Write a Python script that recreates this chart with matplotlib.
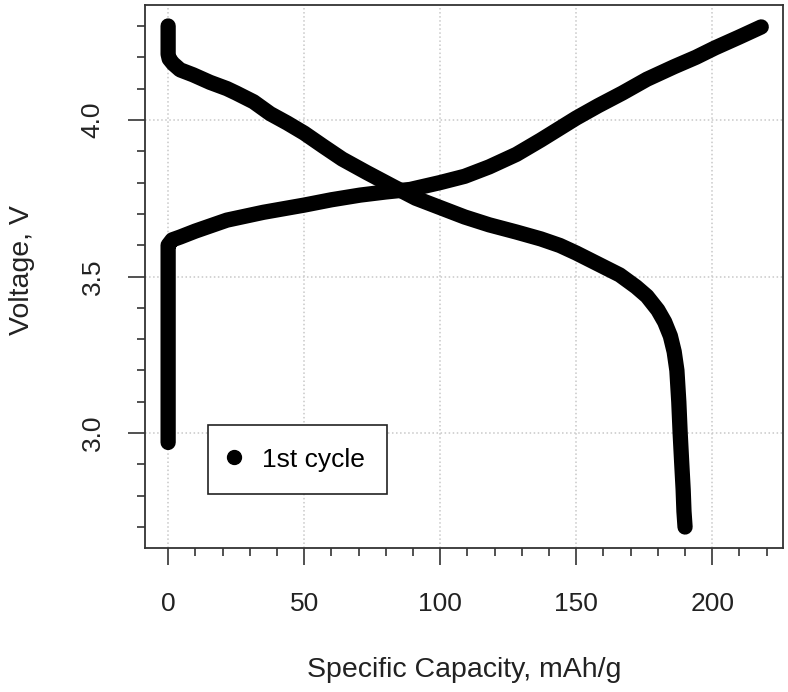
import numpy as np
import matplotlib
matplotlib.use("Agg")
import matplotlib.pyplot as plt
from matplotlib.ticker import MultipleLocator
from matplotlib.lines import Line2D

# charge branch (capacity mAh/g, voltage V)
charge_cap = [0, 0, 0, 0, 1.5, 4.4, 10, 21.6, 35, 50, 60, 70.6, 80, 89,
              100, 109, 118, 128, 137, 150, 158, 167, 176, 186, 194, 201,
              210, 215, 218]
charge_v = [2.97, 3.20, 3.45, 3.60, 3.617, 3.626, 3.645, 3.68, 3.705, 3.728,
            3.745, 3.76, 3.77, 3.778, 3.80, 3.82, 3.85, 3.89, 3.936, 4.006,
            4.045, 4.086, 4.13, 4.17, 4.20, 4.23, 4.265, 4.285, 4.297]

# discharge branch
dis_cap = [0, 0, 0, 0.4, 1.8, 4.4, 9.2, 15.4, 21.6, 25, 31.4, 37.5, 43.8,
           50, 57, 64, 73, 83, 91, 100, 109, 118, 128, 137, 144, 150, 158,
           166, 172, 176, 180, 182.5, 184.6, 186, 187, 187.7, 188.2, 188.8,
           189.3, 189.6, 190]
dis_v = [4.30, 4.25, 4.21, 4.195, 4.18, 4.16, 4.144, 4.12, 4.10, 4.086, 4.058,
         4.02, 3.99, 3.958, 3.916, 3.875, 3.832, 3.786, 3.75, 3.72, 3.69, 3.665,
         3.642, 3.62, 3.599, 3.575, 3.54, 3.505, 3.467, 3.437, 3.393, 3.355,
         3.31, 3.26, 3.20, 3.10, 3.00, 2.90, 2.82, 2.75, 2.70]

plt.rcParams['font.family'] = ['Liberation Sans', 'DejaVu Sans']
plt.rcParams['font.size'] = 19

fig = plt.figure(figsize=(7.88, 6.92), dpi=100)
ax = fig.add_axes([145/788, 1-548/692, 638/788, 543/692])

ax.plot(charge_cap, charge_v, color='black', lw=11, solid_capstyle='round',
        solid_joinstyle='round', zorder=3)
ax.plot(dis_cap, dis_v, color='black', lw=11, solid_capstyle='round',
        solid_joinstyle='round', zorder=3)

ax.set_xlim(-8.5, 226)
ax.set_ylim(2.633, 4.367)

ax.xaxis.set_minor_locator(MultipleLocator(10))
ax.yaxis.set_minor_locator(MultipleLocator(0.1))
ax.set_xticks([0, 50, 100, 150, 200])
ax.set_yticks([3.0, 3.5, 4.0])
ax.set_yticklabels(['3.0', '3.5', '4.0'], rotation=90, va='center')

ax.tick_params(which='major', length=12, width=1.2, color='#333333')
ax.tick_params(which='minor', length=6, width=1.2, color='#333333')
ax.tick_params(axis='x', which='major', pad=20)
ax.tick_params(axis='y', which='major', pad=17)
ax.tick_params(labelcolor='#222222')

ax.grid(True, which='major', linestyle=':', color='#c8c8c8', lw=1.1, zorder=0)
ax.set_axisbelow(True)

for s in ax.spines.values():
    s.set_color('#333333')
    s.set_linewidth(1.3)

ax.set_xlabel('Specific Capacity, mAh/g', fontsize=20.5, labelpad=29,
              color='#222222')
ax.set_ylabel('Voltage, V', fontsize=20.5, color='#222222')
ax.yaxis.set_label_coords(-0.172, 0.512)

handle = Line2D([], [], marker='o', color='black', lw=0, markersize=10)
leg = ax.legend([handle], ['1st cycle'], loc='lower left',
                bbox_to_anchor=(63/638, 54/543), borderaxespad=0,
                fancybox=False, edgecolor='#222222', framealpha=1,
                handlelength=0.3, handletextpad=0.9, borderpad=0.85)
leg.get_frame().set_linewidth(1.2)

fig.savefig('out.png', dpi=100)
